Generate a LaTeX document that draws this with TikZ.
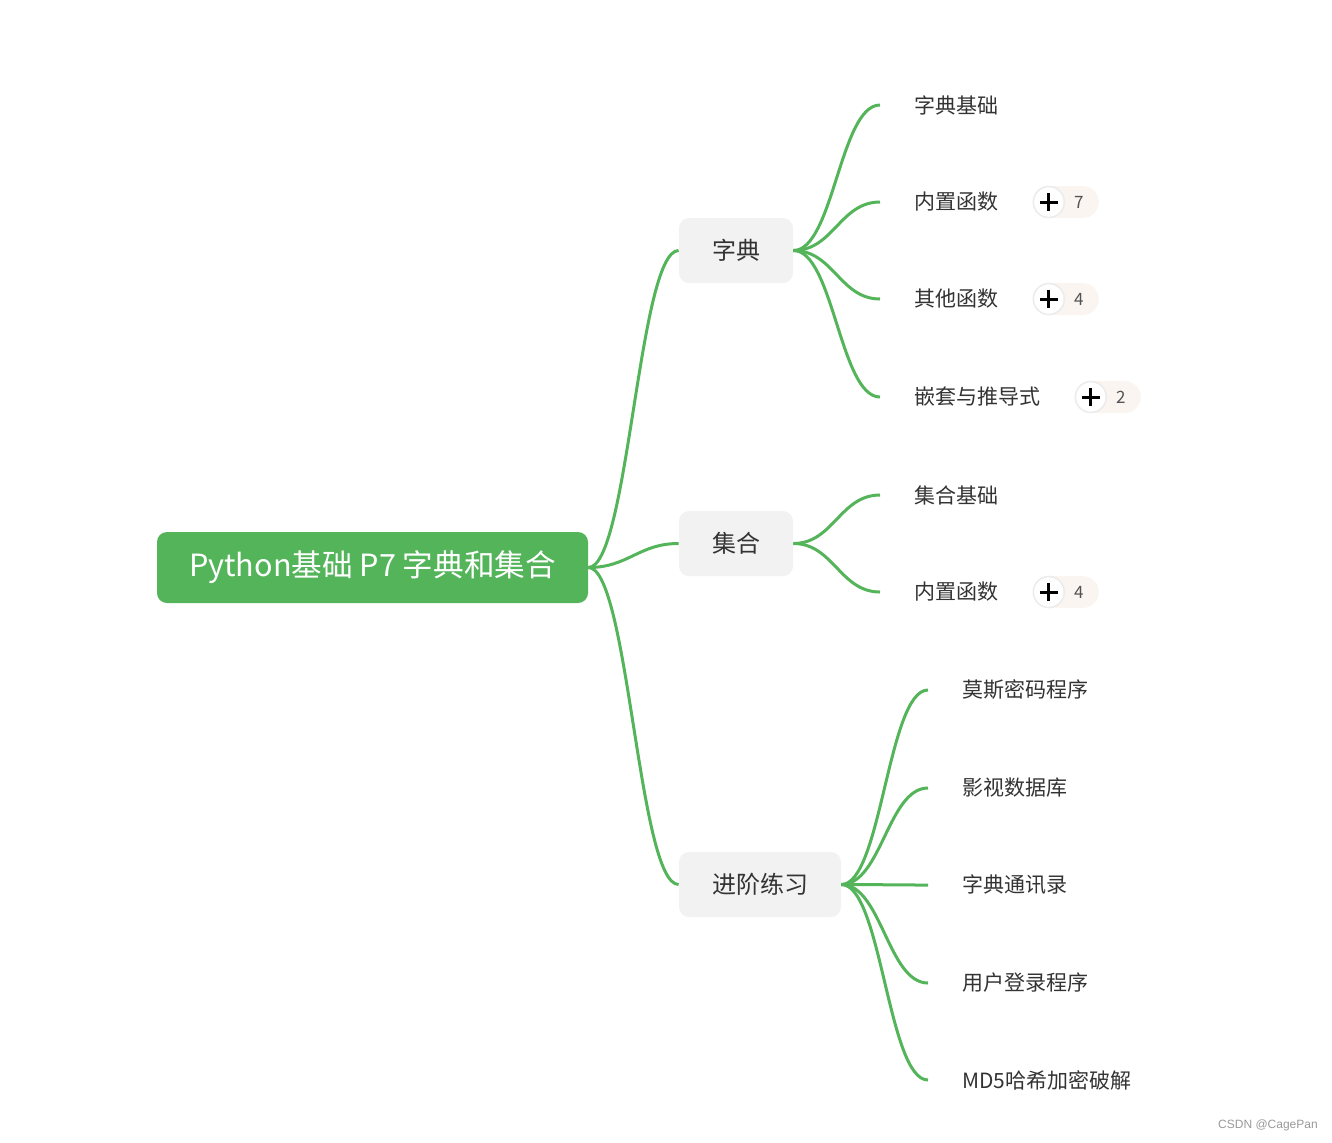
\documentclass[tikz,border=0pt]{standalone}
\usepackage{fontspec}
\setmainfont{Noto Sans CJK SC}
\newfontfamily\wmfont{Liberation Sans}
\usetikzlibrary{positioning}

\definecolor{mapgreen}{RGB}{84,180,90}
\definecolor{boxgray}{RGB}{242,242,242}
\definecolor{txtgray}{RGB}{51,51,51}
\definecolor{pillbg}{RGB}{251,245,241}
\definecolor{ringgray}{RGB}{236,236,236}

\tikzset{
  rootbox/.style={fill=mapgreen, rounded corners=5pt, text=white,
    minimum width=215.5pt, minimum height=35.5pt, font=\fontsize{15.3}{18}\selectfont},
  topicbox/.style={fill=boxgray, rounded corners=5pt, text=txtgray,
    minimum height=32.5pt, font=\fontsize{12}{14}\selectfont},
  leaf/.style={anchor=west, inner xsep=17pt, text=txtgray, font=\fontsize{10.5}{12}\selectfont},
  link/.style={draw=mapgreen, line width=1.5pt},
  pill/.style={fill=pillbg, rounded corners=8pt, minimum width=30pt, minimum height=16pt},
  plusbtn/.style={circle, fill=white, draw=ringgray, line width=0.8pt, minimum size=15.5pt,
    path picture={\draw[black, line width=1.5pt]
      ([xshift=-4.5pt]path picture bounding box.center) -- ([xshift=4.5pt]path picture bounding box.center)
      ([yshift=-4.5pt]path picture bounding box.center) -- ([yshift=4.5pt]path picture bounding box.center);}},
  count/.style={text=txtgray!85, font=\fontsize{8.5}{10}\selectfont}
}

\begin{document}
\begin{tikzpicture}[x=0.5pt, y=-0.5pt]
  \useasboundingbox (0,0) rectangle (1332,1142);

  % main topic and the three branches
  \node[rootbox] (root) at (372.5,567.5) {Python基础 P7 字典和集合};
  \node[topicbox, minimum width=57pt] (zd) at (736,250.5) {字典};
  \node[topicbox, minimum width=57pt] (jh) at (736,543.5) {集合};
  \node[topicbox, minimum width=81pt] (jj) at (760,884.5) {进阶练习};
  \foreach \b in {zd,jh,jj}
    {\draw[link] (root.east) .. controls +(40,0) and +(-40,0) .. (\b.west);}

  % leaves
  \foreach \n/\y/\t in {zd1/105/字典基础, zd2/202/内置函数, zd3/299/其他函数, zd4/397/嵌套与推导式}
    {\node[leaf] (\n) at (880,\y) {\t};
     \draw[link] (zd.east) .. controls +(40,0) and +(-40,0) .. (\n.west);}
  \foreach \n/\y/\t in {jh1/495/集合基础, jh2/592/内置函数}
    {\node[leaf] (\n) at (880,\y) {\t};
     \draw[link] (jh.east) .. controls +(40,0) and +(-40,0) .. (\n.west);}
  \foreach \n/\y/\t in {jj1/690/莫斯密码程序, jj2/788/影视数据库, jj3/885/字典通讯录, jj4/983/用户登录程序, jj5/1080/MD5哈希加密破解}
    {\node[leaf] (\n) at (928,\y) {\t};
     \draw[link] (jj.east) .. controls +(40,0) and +(-40,0) .. (\n.west);}

  % collapsed counts
  \foreach \n/\k in {zd2/7, zd3/4, zd4/2, jh2/4}
    {\node[pill] (\n p) at ([xshift=18pt]\n.east) {};
     \node[plusbtn] (\n b) at ([xshift=8pt]\n.east) {};
     \node[count] (\n k) at ([xshift=23pt]\n.east) {\k};}

  \node[text=gray!80, font=\wmfont\fontsize{6}{7}\selectfont] (wm) at (1268,1125) {CSDN @CagePan};
\end{tikzpicture}
\end{document}
